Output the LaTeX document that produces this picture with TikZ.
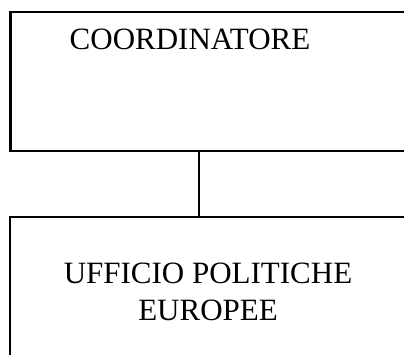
\documentclass[tikz,border=0pt]{standalone}
\usepackage{fontspec}
\setmainfont{Liberation Serif}
\begin{document}
\begin{tikzpicture}[x=1pt,y=1pt,
  orgbox/.style={draw=black, line width=2.2pt, rectangle, inner sep=0pt},
  lbl/.style={font=\fontsize{31}{37}\selectfont, anchor=base, inner sep=0pt},
  conn/.style={draw=black, line width=1.5pt}]
\useasboundingbox (0,0) rectangle (404,354);
\clip (0,0) rectangle (404,354);
\node[orgbox, minimum width=409.5pt, minimum height=139pt] (top) at (215.25,272.5) {};
\node[orgbox, minimum width=410pt, minimum height=153pt] (bot) at (215,60.5) {};
\node[lbl] (t1) at (190,304) {COORDINATORE};
\node[lbl] (t2) at (208,71) {UFFICIO POLITICHE};
\node[lbl] (t3) at (208,34) {EUROPEE};
\coordinate (c) at (199,0);
\draw[conn] (top.south -| c) -- (bot.north -| c);
\end{tikzpicture}
\end{document}
